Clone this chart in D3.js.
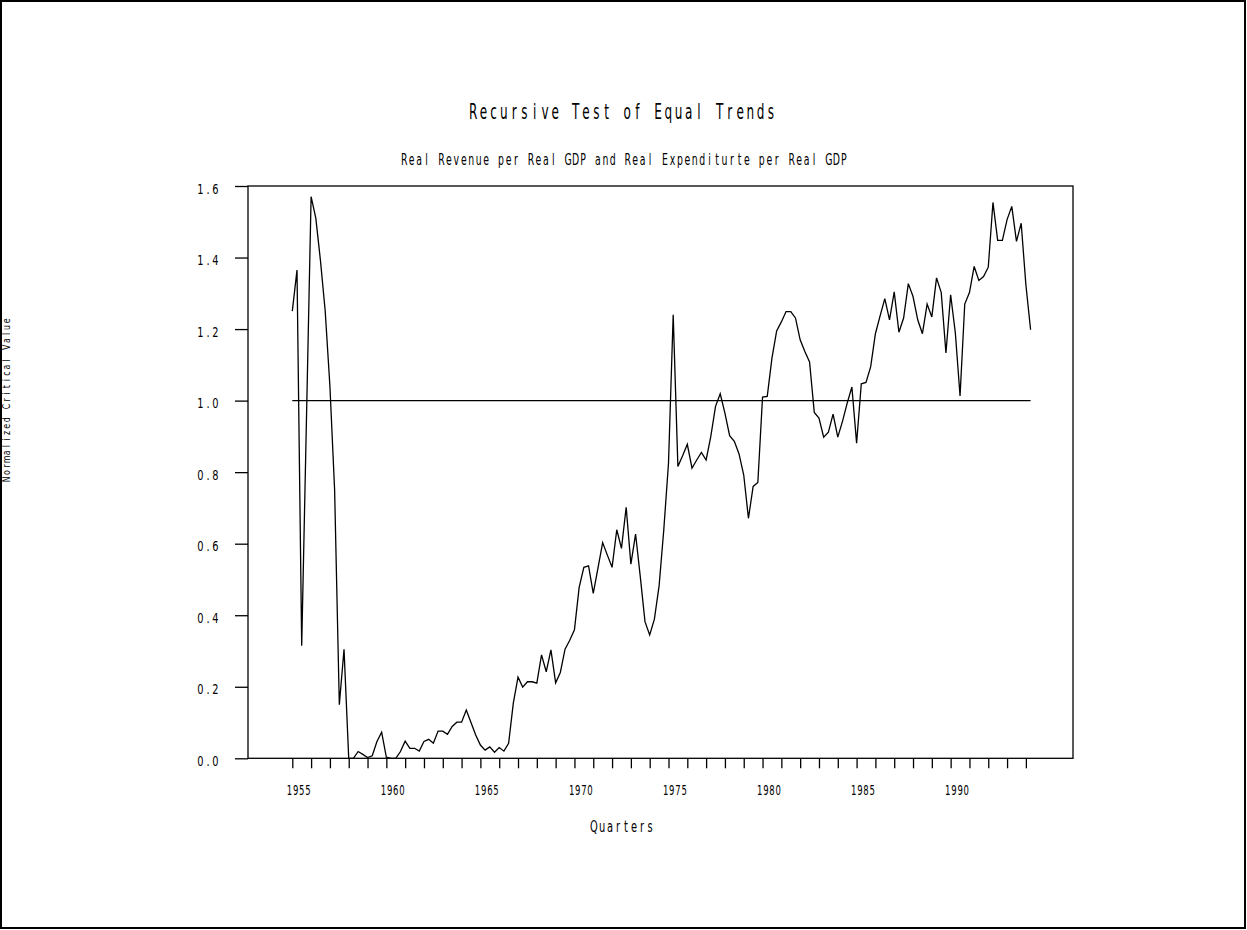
<!DOCTYPE html>
<html>
<head>
<meta charset="utf-8">
<script src="https://cdn.jsdelivr.net/npm/d3@7/dist/d3.min.js"></script>
<style>
  html, body { margin: 0; padding: 0; background: #fff; }
  svg { display: block; }
  text { font-family: "DejaVu Sans", "Liberation Sans", sans-serif; fill: #000; }
</style>
</head>
<body>
<script>
// ---------- data ----------
const title = "Recursive Test of Equal Trends";
const subtitle = "Real Revenue per Real GDP and Real Expenditurte per Real GDP";
const xTitle = "Quarters";
const yTitle = "Normalized Critical Value";

const startYear = 1955;          // first observation: 1955 Q1, quarterly
const criticalLevel = 1.0;

const values = [
  1.25, 1.365, 0.315, 0.94,      // 1955
  1.57, 1.51, 1.39, 1.25,        // 1956
  1.04, 0.75, 0.15, 0.305,       // 1957
  0.0, 0.0, 0.019, 0.011,        // 1958
  0.002, 0.007, 0.047, 0.073,    // 1959
  0.003, 0.0, 0.0, 0.019,        // 1960
  0.048, 0.028, 0.028, 0.02,     // 1961
  0.047, 0.053, 0.042, 0.076,    // 1962
  0.076, 0.067, 0.089, 0.101,    // 1963
  0.101, 0.135, 0.10, 0.065,     // 1964
  0.037, 0.023, 0.032, 0.017,    // 1965
  0.03, 0.02, 0.042, 0.154,      // 1966
  0.227, 0.199, 0.214, 0.214,    // 1967
  0.21, 0.289, 0.242, 0.303,     // 1968
  0.211, 0.240, 0.305, 0.33,     // 1969
  0.359, 0.478, 0.534, 0.538,    // 1970
  0.461, 0.532, 0.603, 0.568,    // 1971
  0.534, 0.639, 0.587, 0.702,    // 1972
  0.543, 0.627, 0.508, 0.382,    // 1973
  0.345, 0.389, 0.482, 0.639,    // 1974
  0.825, 1.240, 0.816, 0.846,    // 1975
  0.878, 0.811, 0.834, 0.855,    // 1976
  0.834, 0.900, 0.984, 1.019,    // 1977
  0.965, 0.902, 0.886, 0.851,    // 1978
  0.792, 0.671, 0.760, 0.771,    // 1979
  1.010, 1.012, 1.119, 1.195,    // 1980
  1.220, 1.249, 1.249, 1.231,    // 1981
  1.170, 1.137, 1.108, 0.967,    // 1982
  0.951, 0.898, 0.912, 0.962,    // 1983
  0.898, 0.942, 0.993, 1.038,    // 1984
  0.881, 1.047, 1.051, 1.095,    // 1985
  1.187, 1.237, 1.285, 1.226,    // 1986
  1.304, 1.191, 1.231, 1.327,    // 1987
  1.291, 1.226, 1.187, 1.270,    // 1988
  1.234, 1.343, 1.302, 1.133,    // 1989
  1.296, 1.189, 1.013, 1.270,    // 1990
  1.302, 1.375, 1.336, 1.347,    // 1991
  1.373, 1.554, 1.448, 1.448,    // 1992
  1.506, 1.543, 1.445, 1.496,    // 1993
  1.324, 1.198                   // 1994
];

const xTickYears = d3.range(1955, 1995);               // yearly tick marks
const xTickLabels = [1955, 1960, 1965, 1970, 1975, 1980, 1985, 1990];
const yTicks = [0.0, 0.2, 0.4, 0.6, 0.8, 1.0, 1.2, 1.4, 1.6];

// ---------- layout ----------
const W = 1247, H = 930;
const plot = { left: 248, right: 1073, top: 186, bottom: 758.3 };

const svg = d3.select("body").append("svg")
  .attr("width", W).attr("height", H);

svg.append("rect")
  .attr("x", 1).attr("y", 1).attr("width", W - 3).attr("height", H - 3)
  .attr("fill", "#fff").attr("stroke", "#000").attr("stroke-width", 2);

const x = d3.scaleLinear().domain([1952.645, 1996.505]).range([plot.left, plot.right]);
const y = d3.scaleLinear().domain([0, 1.6]).range([plot.bottom, plot.top]);

const quarterTime = i => startYear + i / 4;

// text helper: fixed-pitch, narrow glyphs (each character centred on its own slot)
function label(str, cx, base, o) {
  const F = o.cap / 0.73;
  const n = str.length;
  const sx = o.sx;
  const half = o.glyph / 2;
  let first;
  if (o.anchor === "end") first = -(n - 1) * o.pitch - half;
  else if (o.anchor === "start") first = half;
  else first = -(n - 1) * o.pitch / 2;
  const xs = d3.range(n).map(k => ((first + k * o.pitch) / sx).toFixed(2));
  const g = svg.append("g")
    .attr("transform", `translate(${cx},${base}) rotate(${o.rotate || 0}) scale(${sx},1)`);
  g.append("text")
    .attr("x", xs.join(" "))
    .attr("y", 0)
    .attr("text-anchor", "middle")
    .style("font-size", F.toFixed(2) + "px")
    .text(str);
}

// ---------- axes ----------
const yAxis = svg.append("g")
  .attr("transform", `translate(${plot.left},0)`)
  .call(d3.axisLeft(y).tickValues(yTicks).tickSize(13).tickFormat(""));
yAxis.select(".domain").remove();
yAxis.selectAll("line").attr("stroke", "#000").attr("stroke-width", 1.3);

const xAxis = svg.append("g")
  .attr("transform", `translate(0,${plot.bottom})`)
  .call(d3.axisBottom(x).tickValues(xTickYears).tickSize(10).tickFormat(""));
xAxis.select(".domain").remove();
xAxis.selectAll("line").attr("stroke", "#000").attr("stroke-width", 1.3);

// frame
svg.append("rect")
  .attr("x", plot.left).attr("y", plot.top)
  .attr("width", plot.right - plot.left).attr("height", plot.bottom - plot.top)
  .attr("fill", "none").attr("stroke", "#000").attr("stroke-width", 1.3);

// tick labels
const fmt = d3.format(".1f");
yTicks.forEach(v => {
  label(fmt(v), 218, y(v) + 7.5, { cap: 10, pitch: 7.5, glyph: 5, sx: 0.72, anchor: "end" });
});
xTickLabels.forEach(yr => {
  label(String(yr), x(yr) + 6.4, 795, { cap: 10.7, pitch: 6.15, glyph: 4.3, sx: 0.58, anchor: "middle" });
});

// ---------- marks ----------
const t0 = quarterTime(0), t1 = quarterTime(values.length - 1);
svg.append("line")
  .attr("x1", x(t0)).attr("x2", x(t1))
  .attr("y1", y(criticalLevel)).attr("y2", y(criticalLevel))
  .attr("stroke", "#000").attr("stroke-width", 1.2);

const line = d3.line()
  .x((d, i) => x(quarterTime(i)))
  .y(d => y(d));

svg.append("path")
  .datum(values)
  .attr("d", line)
  .attr("fill", "none")
  .attr("stroke", "#000")
  .attr("stroke-width", 1.3)
  .attr("stroke-linejoin", "miter");

// ---------- titles ----------
label(title, 622, 119, { cap: 16, pitch: 10.27, glyph: 6, sx: 0.55, anchor: "middle" });
label(subtitle, 624, 165, { cap: 11, pitch: 7.45, glyph: 5, sx: 0.62, anchor: "middle" });
label(xTitle, 622, 832, { cap: 12, pitch: 8.0, glyph: 5, sx: 0.6, anchor: "middle" });
label(yTitle, 9.5, 400, { cap: 8, pitch: 6.6, glyph: 4, sx: 0.72, anchor: "middle", rotate: -90 });
</script>
</body>
</html>
